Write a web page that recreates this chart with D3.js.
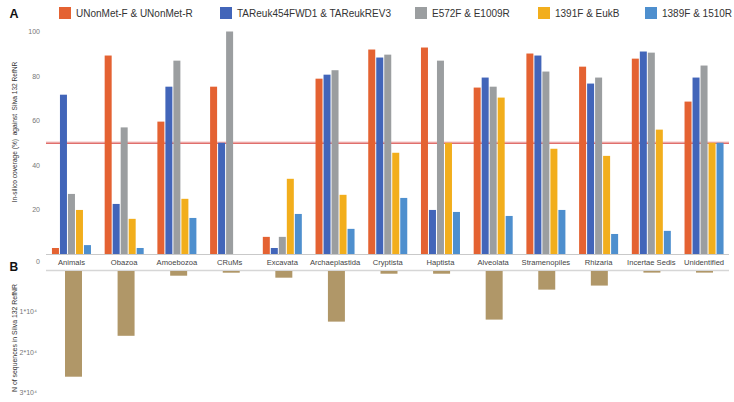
<!DOCTYPE html>
<html>
<head>
<meta charset="utf-8">
<script src="https://cdn.jsdelivr.net/npm/d3@7"></script>
<style>
  html, body { margin: 0; padding: 0; background: #fff; }
  svg { display: block; font-family: "Liberation Sans", Arial, Helvetica, sans-serif; }
</style>
</head>
<body>
<svg id="chart" width="734" height="402"></svg>
<script>
// ---------- data ----------
const categories = ["Animals", "Obazoa", "Amoebozoa", "CRuMs", "Excavata", "Archaeplastida",
  "Cryptista", "Haptista", "Alveolata", "Stramenopiles", "Rhizaria", "Incertae Sedis", "Unidentified"];
const seriesNames = ["UNonMet-F & UNonMet-R", "TAReuk454FWD1 & TAReukREV3", "E572F & E1009R",
  "1391F & EukB", "1389F & 1510R"];
const seriesColors = ["#E46232", "#4265B9", "#9B9EA0", "#F2AE1C", "#4E8FCE"];
const uNonMet   = [2.7, 89.2, 59.5, 75.2, 7.7, 78.8, 91.9, 92.8, 74.8, 90.1, 84.2, 87.8, 68.5];
const taReuk    = [71.6, 22.5, 75.2, 50, 2.7, 80.6, 88.3, 19.8, 79.3, 89.2, 76.6, 91.0, 79.3];
const e572f     = [27, 56.9, 86.9, 100, 7.7, 82.6, 89.6, 86.9, 75.2, 82.0, 79.3, 90.5, 84.7];
const f1391     = [19.8, 15.8, 24.8, 0, 33.8, 26.6, 45.5, 50, 70.3, 47.3, 44.1, 55.9, 50];
const f1389     = [4, 2.7, 16.2, 0, 18, 11.3, 25.2, 18.9, 17.1, 19.8, 9, 10.4, 50];
const seqCounts = [26100, 16000, 1160, 420, 1650, 12500, 670, 670, 12000, 4600, 3600, 400, 400];
const thresholdValue = 50;
const coverageTicks = [20, 40, 60, 80, 100];
const countTicks = [0, 10000, 20000, 30000];
const countTickLabels = ["0", "1*10\u2074", "2*10\u2074", "3*10\u2074"];
const panelLetters = ["A", "B"];
const coverageTitle = "In-silico coverage (%)  against  Silva 132 RefNR";
const countTitle = "N of sequences in Silva 132 RefNR";

const seriesValues = [uNonMet, taReuk, e572f, f1391, f1389];

// ---------- layout ----------
const svg = d3.select("#chart");

const x0 = d3.scaleBand().domain(categories).range([45.1, 730.4])
  .paddingInner(0.241).paddingOuter(0.1205);
const x1 = d3.scaleBand().domain(seriesNames).range([0, x0.bandwidth()])
  .paddingInner(0.125).paddingOuter(0.0625);
const yTop = d3.scaleLinear().domain([0, 100]).range([254, 31.5]);

const xB = d3.scaleBand().domain(categories).range([47.2, 730.8])
  .paddingInner(0.677).paddingOuter(0.3385);
const yBot = d3.scaleLinear().domain([0, 30000]).range([271, 392.5]);

// ---------- legend ----------
const legendX = [59, 220, 415, 538, 645];
const legend = svg.append("g");
seriesNames.forEach((name, i) => {
  const g = legend.append("g").attr("transform", `translate(${legendX[i]},7)`);
  g.append("rect").attr("width", 12).attr("height", 12).attr("fill", seriesColors[i]);
  g.append("text").attr("x", 17).attr("y", 10.3).attr("font-size", 10)
    .attr("fill", "#333").text(name);
});

// panel letters
svg.append("text").attr("x", 9.5).attr("y", 17.5).attr("font-size", 12.5)
  .attr("font-weight", "bold").attr("fill", "#111").text(panelLetters[0]);
svg.append("text").attr("x", 9.5).attr("y", 271).attr("font-size", 12)
  .attr("font-weight", "bold").attr("fill", "#111").text(panelLetters[1]);

// ---------- top panel ----------
// baseline
svg.append("line").attr("x1", 46).attr("x2", 729)
  .attr("y1", yTop(0) + 0.5).attr("y2", yTop(0) + 0.5)
  .attr("stroke", "#c9c9c9").attr("stroke-width", 1);

// threshold line (behind bars)
svg.append("line").attr("x1", 46).attr("x2", 729)
  .attr("y1", yTop(thresholdValue)).attr("y2", yTop(thresholdValue))
  .attr("stroke", "#f4c4c4").attr("stroke-width", 2.5);
svg.append("line").attr("x1", 46).attr("x2", 729)
  .attr("y1", yTop(thresholdValue) + 0.5).attr("y2", yTop(thresholdValue) + 0.5)
  .attr("stroke", "#d9534f").attr("stroke-width", 1);

const groups = svg.append("g").selectAll("g").data(categories).join("g")
  .attr("transform", d => `translate(${x0(d)},0)`);
groups.selectAll("rect")
  .data((c, ci) => seriesNames.map((s, si) => ({ s, si, v: seriesValues[si][ci] })))
  .join("rect")
  .attr("x", d => x1(d.s))
  .attr("width", x1.bandwidth())
  .attr("y", d => yTop(d.v))
  .attr("height", d => yTop(0) - yTop(d.v))
  .attr("fill", d => seriesColors[d.si]);

// y axis top
const axTop = svg.append("g").attr("transform", "translate(40,0)")
  .call(d3.axisLeft(yTop).tickValues(coverageTicks).tickSize(0).tickPadding(0));
axTop.select(".domain").remove();
axTop.selectAll("text").attr("font-size", 7).attr("fill", "#777")
  .attr("font-family", "Liberation Sans, Arial, sans-serif");

// y title top
svg.append("text")
  .attr("transform", `translate(16.5,${132}) rotate(-90)`)
  .attr("text-anchor", "middle").attr("font-size", 6.6).attr("fill", "#333")
  .style("white-space", "pre").text(coverageTitle);

// category labels
svg.append("g").selectAll("text").data(categories).join("text")
  .attr("x", d => x0(d) + x0.bandwidth() / 2)
  .attr("y", 264.8)
  .attr("text-anchor", "middle").attr("font-size", 7.6).attr("fill", "#444")
  .text(d => d);

// ---------- bottom panel ----------
svg.append("line").attr("x1", 46).attr("x2", 729)
  .attr("y1", yBot(0) - 0.5).attr("y2", yBot(0) - 0.5)
  .attr("stroke", "#d6d6d6").attr("stroke-width", 1.5);

svg.append("g").selectAll("rect").data(categories).join("rect")
  .attr("x", d => xB(d))
  .attr("width", xB.bandwidth())
  .attr("y", yBot(0))
  .attr("height", (d, i) => yBot(seqCounts[i]) - yBot(0))
  .attr("fill", "#B09768");

const axBot = svg.append("g").attr("transform", "translate(37,0)")
  .call(d3.axisLeft(yBot).tickValues(countTicks).tickSize(0).tickPadding(0)
    .tickFormat((d, i) => countTickLabels[i]));
axBot.select(".domain").remove();
axBot.selectAll("text").attr("font-size", 7).attr("fill", "#777")
  .attr("font-family", "Liberation Sans, Arial, sans-serif");
axBot.selectAll(".tick").filter(d => d === 0)
  .attr("transform", `translate(3,${yBot(0) - 9.5})`);

svg.append("text")
  .attr("transform", `translate(16.5,${338}) rotate(-90)`)
  .attr("text-anchor", "middle").attr("font-size", 6.9).attr("fill", "#333")
  .text(countTitle);
</script>
</body>
</html>
